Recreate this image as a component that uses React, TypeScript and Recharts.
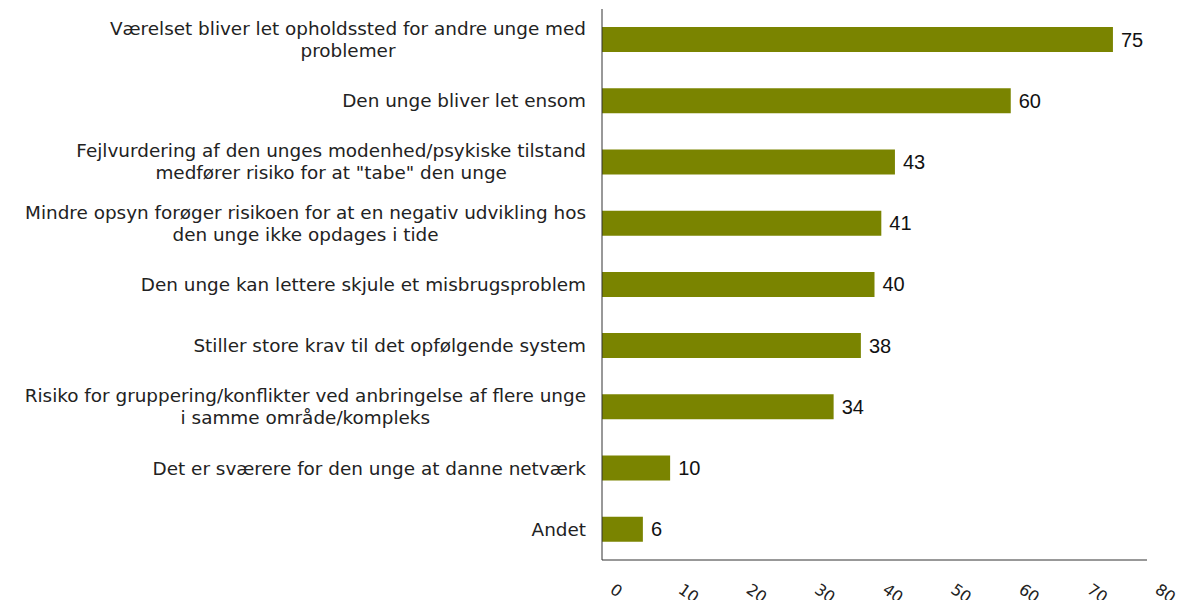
// @ts-nocheck
import React from "react";
import { BarChart, Bar, XAxis, YAxis, LabelList } from "recharts";

const categories = [
  "Værelset bliver let opholdssted for andre unge med\nproblemer",
  "Den unge bliver let ensom",
  "Fejlvurdering af den unges modenhed/psykiske tilstand\nmedfører risiko for at \"tabe\" den unge",
  "Mindre opsyn forøger risikoen for at en negativ udvikling hos\nden unge ikke opdages i tide",
  "Den unge kan lettere skjule et misbrugsproblem",
  "Stiller store krav til det opfølgende system",
  "Risiko for gruppering/konflikter ved anbringelse af flere unge\ni samme område/kompleks",
  "Det er sværere for den unge at danne netværk",
  "Andet",
];
const values = [75, 60, 43, 41, 40, 38, 34, 10, 6];
const xTicks = [0, 10, 20, 30, 40, 50, 60, 70, 80];

const data = categories.map((name, i) => ({ name, value: values[i] }));

const LABEL_FONT = "18.4px 'DejaVu Sans', Verdana, sans-serif";
let ctx = null;
const measure = (s) => {
  if (!ctx) ctx = document.createElement("canvas").getContext("2d");
  ctx.font = LABEL_FONT;
  return ctx.measureText(s).width;
};

const CategoryTick = ({ x, y, payload }) => {
  const lines = String(payload.value).split("\n");
  const right = x - 8;
  const maxW = Math.max(...lines.map(measure));
  const cx = right - maxW / 2;
  const step = 22;
  const start = -((lines.length - 1) * step) / 2;
  return (
    <g>
      {lines.map((l, i) => (
        <text key={i} x={cx} y={y + start + i * step} dy="0.35em" textAnchor="middle"
              style={{ font: LABEL_FONT, fill: "#222" }}>
          {l}
        </text>
      ))}
    </g>
  );
};

const ValueTick = ({ x, y, payload }) => (
  <text x={x + 7} y={y + 24} transform={`rotate(35 ${x + 7} ${y + 24})`}
        style={{ fontSize: 16, fontFamily: "'DejaVu Sans', Verdana, sans-serif", fill: "#222" }}>
    {payload.value}
  </text>
);

export default function App() {
  return (
    <div style={{ position: "absolute", left: 0, top: 0, width: 1184, height: 600, background: "#fff" }}>
      <BarChart width={1184} height={600} data={data} layout="vertical"
                margin={{ top: 9, right: 37, left: 0, bottom: 0 }} barCategoryGap="0%">
        <XAxis type="number" domain={[0, 80]} ticks={xTicks} height={40}
               axisLine={{ stroke: "#333" }} tickLine={false} tick={<ValueTick />} interval={0} />
        <YAxis type="category" dataKey="name" width={602}
               axisLine={{ stroke: "#333" }} tickLine={false} tick={<CategoryTick />} interval={0} />
        <Bar dataKey="value" fill="#7A8400" barSize={25} isAnimationActive={false}>
          <LabelList dataKey="value" position="right" offset={8}
                     style={{ fontSize: 20, fontFamily: "'Liberation Sans', Arial, sans-serif", fill: "#111" }} />
        </Bar>
      </BarChart>
    </div>
  );
}
